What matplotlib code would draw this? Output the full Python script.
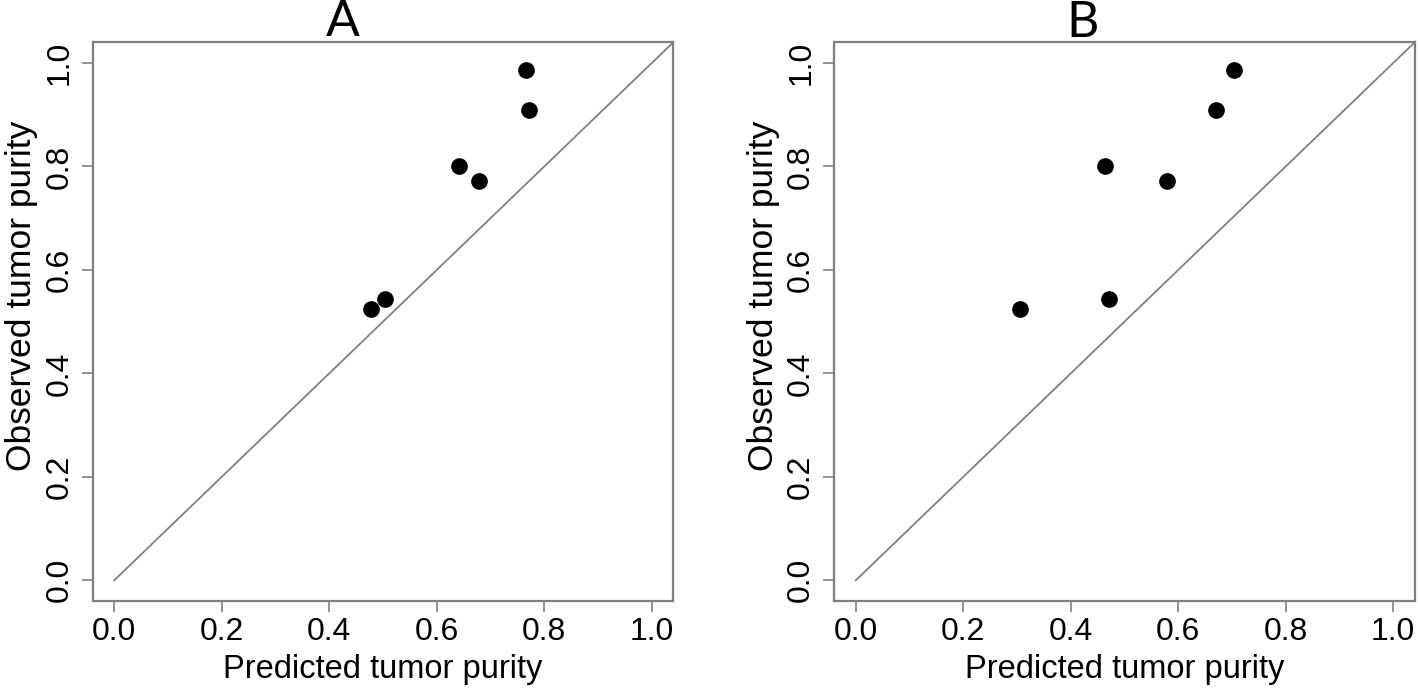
import matplotlib
matplotlib.use("Agg")
import matplotlib.pyplot as plt

# ---- data ----
observed = [0.987, 0.910, 0.801, 0.772, 0.543, 0.524]
predicted_A = [0.766, 0.771, 0.642, 0.678, 0.504, 0.477]
predicted_B = [0.703, 0.670, 0.464, 0.579, 0.472, 0.306]
tick_values = [0.0, 0.2, 0.4, 0.6, 0.8, 1.0]
tick_labels = ["0.0", "0.2", "0.4", "0.6", "0.8", "1.0"]
panel_titles = ["A", "B"]
xlabel_text = "Predicted tumor purity"
ylabel_text = "Observed tumor purity"

W, H = 1418, 689
fig = plt.figure(figsize=(W / 100, H / 100), dpi=100)
plt.rcParams['font.family'] = ['Liberation Sans', 'DejaVu Sans']

box_gray = '#7f7f7f'
axes_px = [(92.7, 673.3), (834.3, 1414.7)]
top_px, bot_px = 42.3, 601.0
title_pos = [(343, 22), (1083, 23)]
ylabel_offset_px = 38 - 92.7   # anchor of y label relative to the left spine

for i, (l, r) in enumerate(axes_px):
    ax = fig.add_axes([l / W, 1 - bot_px / H, (r - l) / W, (bot_px - top_px) / H])
    px = predicted_A if i == 0 else predicted_B
    ax.set_xlim(-0.04, 1.04)
    ax.set_ylim(-0.04, 1.04)
    ax.plot([0, 1.2], [0, 1.2], color='#808080', lw=1.3, zorder=1)
    ax.plot(px, observed, 'o', color='black', ms=11, ls='none', zorder=3)
    ax.set_xticks(tick_values)
    ax.set_xticklabels(tick_labels)
    ax.set_yticks(tick_values)
    ax.set_yticklabels(tick_labels, rotation=90, va='center')
    for s in ax.spines.values():
        s.set_color(box_gray)
        s.set_linewidth(1.6)
    ax.tick_params(axis='both', length=8, width=1.2, color=box_gray,
                   labelsize=23, labelcolor='black')
    ax.tick_params(axis='x', pad=3.5)
    ax.tick_params(axis='y', pad=5)
    ax.set_xlabel(xlabel_text, fontsize=23.5)
    ax.xaxis.set_label_coords(0.5, -(654 - bot_px) / (bot_px - top_px))
    ax.set_ylabel(ylabel_text, fontsize=25.5)
    ax.yaxis.set_label_coords(ylabel_offset_px / (r - l), (bot_px - 296) / (bot_px - top_px))
    fig.text(title_pos[i][0] / W, 1 - title_pos[i][1] / H, panel_titles[i],
             ha='center', va='center', fontsize=36, family=['Lato', 'DejaVu Sans'])

fig.savefig("out.png", dpi=100)
